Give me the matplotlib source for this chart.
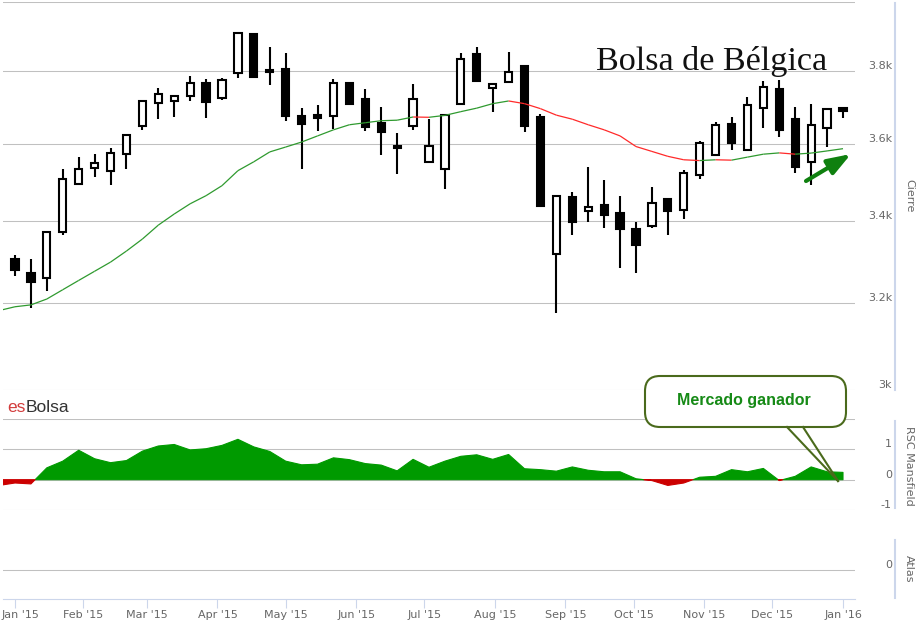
import numpy as np
import pandas as pd
import matplotlib
matplotlib.use("Agg")
import matplotlib.pyplot as plt
import matplotlib.dates as mdates
from matplotlib.collections import LineCollection
from matplotlib.patches import FancyBboxPatch
from matplotlib.ticker import NullLocator, FixedLocator
from matplotlib.transforms import ScaledTranslation

# weekly candles (Friday dates)
weeks = pd.date_range("2015-01-02", periods=53, freq="7D")
# MA / RSC also include the week before the first candle
weeks_ext = pd.date_range("2014-12-26", periods=54, freq="7D")

opens = [3306, 3273, 3259, 3372, 3496, 3538, 3529, 3574, 3648, 3712,
         3718, 3731, 3766, 3725, 3795, 3906, 3802, 3805, 3676, 3679,
         3676, 3766, 3723, 3657, 3595, 3649, 3553, 3535, 3710, 3848,
         3753, 3770, 3816, 3674, 3318, 3461, 3426, 3442, 3420, 3380,
         3388, 3456, 3429, 3519, 3572, 3654, 3585, 3699, 3751, 3668,
         3552, 3644, 3699]
highs = [3316, 3306, 3373, 3535, 3565, 3573, 3590, 3625, 3716, 3753,
         3734, 3786, 3778, 3780, 3908, 3909, 3868, 3851, 3699, 3707,
         3778, 3766, 3751, 3701, 3630, 3764, 3668, 3682, 3851, 3868,
         3765, 3854, 3816, 3681, 3463, 3474, 3539, 3506, 3464, 3397,
         3488, 3459, 3531, 3609, 3659, 3673, 3728, 3773, 3775, 3701,
         3710, 3697, 3699]
lows = [3265, 3188, 3228, 3366, 3496, 3512, 3492, 3535, 3639, 3667,
        3672, 3716, 3670, 3719, 3782, 3782, 3760, 3661, 3535, 3636,
        3641, 3708, 3634, 3570, 3520, 3639, 3553, 3481, 3710, 3772,
        3686, 3770, 3632, 3438, 3176, 3366, 3397, 3383, 3283, 3273,
        3384, 3366, 3405, 3507, 3572, 3583, 3583, 3644, 3619, 3524,
        3492, 3591, 3670]
closes = [3280, 3249, 3372, 3507, 3533, 3551, 3577, 3625, 3716, 3735,
          3731, 3768, 3714, 3775, 3908, 3784, 3797, 3676, 3653, 3670,
          3768, 3708, 3646, 3632, 3589, 3722, 3594, 3679, 3835, 3772,
          3765, 3799, 3648, 3438, 3463, 3399, 3437, 3416, 3380, 3341,
          3446, 3425, 3524, 3602, 3650, 3602, 3705, 3755, 3639, 3539,
          3650, 3696, 3689]

ma = [3182, 3191, 3195.4, 3209.4, 3231.6, 3253.9, 3276.1, 3298.4, 3325.6, 3355.3,
      3390.1, 3418.2, 3444.2, 3465.0, 3490.8, 3529.8, 3553.2, 3579.2, 3592.2, 3605.5,
      3621.9, 3638.3, 3652.0, 3657.5, 3663.0, 3664.4, 3673.1, 3672.3, 3677.5, 3687.7,
      3697.3, 3709.6, 3717.0, 3709.6, 3695.9, 3678.1, 3667.1, 3652.0, 3638.3, 3621.9,
      3593.5, 3580.5, 3567.5, 3558.4, 3556.3, 3558.4, 3557.4, 3565.4, 3573.2, 3576.6,
      3573.2, 3576.1, 3581.8, 3587.8]

rsc = [-0.19, -0.11, -0.14, 0.39, 0.61, 0.97, 0.69, 0.56, 0.63, 0.94,
       1.11, 1.16, 0.98, 1.02, 1.13, 1.33, 1.08, 0.93, 0.61, 0.49,
       0.51, 0.72, 0.66, 0.53, 0.48, 0.29, 0.67, 0.41, 0.61, 0.77,
       0.82, 0.67, 0.83, 0.36, 0.33, 0.28, 0.42, 0.31, 0.26, 0.26,
       0.03, -0.03, -0.19, -0.11, 0.08, 0.11, 0.33, 0.26, 0.37, -0.03,
       0.11, 0.42, 0.26, 0.24]

price_ticks = [3000, 3200, 3400, 3600, 3800, 4000]
price_labels = ['3k', '3.2k', '3.4k', '3.6k', '3.8k', '']

W, H = 917, 624
GRID = '#c0c0c0'
AXC = '#ccd6eb'
LAB = '#666666'


def box(x0, y0, x1, y1):
    return [x0 / W, 1 - y1 / H, (x1 - x0) / W, (y1 - y0) / H]


fig = plt.figure(figsize=(W / 100, H / 100), dpi=100)
ax1 = fig.add_axes(box(3, 2, 855, 390))
ax2 = fig.add_axes(box(3, 419, 855, 510), sharex=ax1)
ax3 = fig.add_axes(box(3, 540, 855, 599), sharex=ax1)

x = mdates.date2num(weeks.to_pydatetime())
xe = mdates.date2num(weeks_ext.to_pydatetime())
o = np.array(opens, float)
h = np.array(highs, float)
l = np.array(lows, float)
c = np.array(closes, float)

# ---- candles
ax1.set_yscale('log')
ax1.vlines(x, l, h, color='black', lw=1.5, zorder=2)
up = c >= o
bot = np.minimum(o, c)
hgt = np.maximum(np.abs(c - o), 0.5)
ax1.bar(x[up], hgt[up], bottom=bot[up], width=3.2, facecolor='white',
        edgecolor='black', lw=1.5, zorder=3)
ax1.bar(x[~up], hgt[~up], bottom=bot[~up], width=3.2, facecolor='black',
        edgecolor='black', lw=1.5, zorder=3)

# ---- moving average, coloured by slope
ma_a = np.array(ma)
pts = np.column_stack([xe, ma_a])
segs = np.stack([pts[:-1], pts[1:]], axis=1)
cols = ['#2f9a2f' if ma_a[i + 1] >= ma_a[i] else '#ff2a2a' for i in range(len(ma_a) - 1)]
ax1.add_collection(LineCollection(segs, colors=cols, lw=0.9, zorder=4))

ax1.set_ylim(3000, 4000)
ax1.yaxis.set_major_locator(FixedLocator(price_ticks))
ax1.yaxis.set_minor_locator(NullLocator())
ax1.set_yticklabels(price_labels)

# ---- RSC Mansfield
r = np.array(rsc)
ax2.fill_between(xe, r, 0, where=r >= 0, interpolate=True, color='#009a00', lw=0.8)
ax2.fill_between(xe, r, 0, where=r <= 0, interpolate=True, color='#cc0000', lw=0.8)
ax2.set_ylim(-1, 2)
ax2.set_yticks([-1, 0, 1, 2])
ax2.set_yticklabels(['-1', '0', '1', ''])

# ---- Atlas (empty)
ax3.set_ylim(-1, 1)
ax3.set_yticks([0])
ax3.set_yticklabels(['0'])

ax1.set_xlim(x[0] - 5.275, x[-1] + 5.275)
# month ticks; the first one sits on the first weekly point
month_starts = mdates.date2num(pd.date_range("2015-01-01", "2016-01-01", freq="MS").to_pydatetime())
month_starts[0] = max(month_starts[0], x[0])
ax3.xaxis.set_major_locator(FixedLocator(month_starts))
ax3.xaxis.set_major_formatter(mdates.DateFormatter("%b '%y"))

axis_spans = {ax1: (0.0, 0.997), ax2: (0.02, 0.98), ax3: (0.01, 1.0)}
for ax in (ax1, ax2, ax3):
    for s in ax.spines.values():
        s.set_visible(False)
    ax.grid(axis='y', color=GRID, lw=0.75)
    ax.grid(axis='x', visible=False)
    ax.set_axisbelow(True)
    ax.yaxis.tick_right()
    ax.tick_params(axis='y', length=0, pad=26.6, labelsize=8, labelcolor=LAB)
    for lab in ax.get_yticklabels():
        lab.set_horizontalalignment('right')
        lab.set_verticalalignment('bottom')
    y0, y1 = axis_spans[ax]
    ax.plot([1.047, 1.047], [y0, y1], transform=ax.transAxes, clip_on=False,
            color=AXC, lw=1.5)

for ax in (ax1, ax2):
    ax.tick_params(axis='x', bottom=False, labelbottom=False)

ax3.spines['bottom'].set_visible(True)
ax3.spines['bottom'].set_color(AXC)
ax3.spines['bottom'].set_linewidth(0.8)
ax3.tick_params(axis='x', length=6.5, width=0.8, color=AXC, labelsize=8,
                labelcolor=LAB, pad=1.5)
# keep the first month label inside the figure
first = ax3.xaxis.get_major_ticks()[0].label1
first.set_transform(first.get_transform() + ScaledTranslation(5 / 100, 0, fig.dpi_scale_trans))

# ---- overlay in pixel coordinates for titles and annotations
ov = fig.add_axes([0, 0, 1, 1], facecolor='none', zorder=10)
ov.set_xlim(0, W)
ov.set_ylim(H, 0)
ov.axis('off')

ov.text(596, 70, 'Bolsa de Bélgica', family='Liberation Serif', fontsize=24.6,
        va='baseline', ha='left', color='#111111')
es = ov.text(7, 412, 'es', family='Liberation Sans', fontsize=12.5, color='#d23c3c',
             va='baseline')
ov.annotate('Bolsa', xy=(1, 0), xycoords=es, family='Liberation Sans', fontsize=12.5,
            color='#333333', ha='left', va='bottom')

ov.text(909, 196, 'Cierre', rotation=270, fontsize=8, color=LAB, ha='center', va='center')
ov.text(909, 466, 'RSC Mansfield', rotation=270, fontsize=8, color=LAB, ha='center', va='center')
ov.text(909, 569, 'Atlas', rotation=270, fontsize=8, color=LAB, ha='center', va='center')

# green arrow
ov.annotate('', xy=(851, 154), xytext=(806, 181),
            arrowprops=dict(arrowstyle='-|>,head_length=14,head_width=5',
                            mutation_scale=1, lw=3, color='#0f800f',
                            shrinkA=0, shrinkB=0))

# callout
callout_col = '#4a6a1c'
ov.add_patch(FancyBboxPatch((645, 376), 201, 51,
                            boxstyle='round,pad=0,rounding_size=15',
                            fc='white', ec=callout_col, lw=1.5))
ov.plot([787, 838], [427, 481], color=callout_col, lw=1.5)
ov.plot([803, 838], [427, 481], color=callout_col, lw=1.5)
ov.text(744, 401, 'Mercado ganador', family='Liberation Sans', fontweight='bold',
        fontsize=11.5, color='#168a16', ha='center', va='center')

fig.savefig('out.png', dpi=100)
